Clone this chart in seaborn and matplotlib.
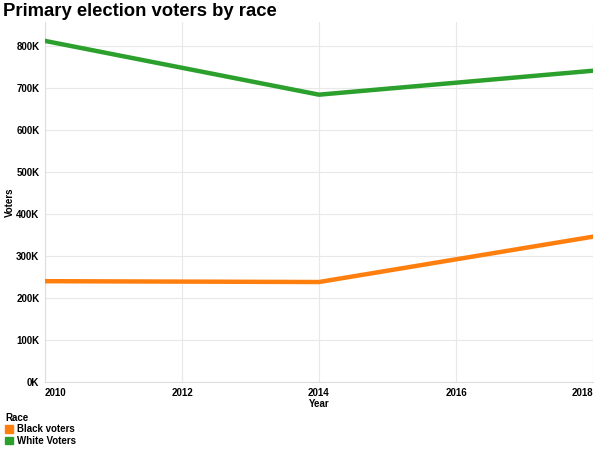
import matplotlib
matplotlib.use("Agg")
import matplotlib.pyplot as plt
import seaborn as sns
import pandas as pd
from matplotlib.ticker import FuncFormatter, MultipleLocator
from matplotlib.patches import Patch

years = [2010, 2014, 2018]
black_voters = [240000, 238000, 346000]
white_voters = [812000, 684000, 741000]
races = ["Black voters", "White Voters"]
colors = ["#ff7f0e", "#2ca02c"]

df = pd.DataFrame({
    "Year": years * 2,
    "Voters": black_voters + white_voters,
    "Race": [races[0]] * 3 + [races[1]] * 3,
})

sns.set_style("white")
plt.rcParams['font.family'] = ['Liberation Sans', 'DejaVu Sans']
plt.rcParams['text.color'] = 'black'
plt.rcParams['axes.labelcolor'] = 'black'
plt.rcParams['xtick.color'] = 'black'
plt.rcParams['ytick.color'] = 'black'

fig = plt.figure(figsize=(6.0, 4.51), dpi=100)
ax = fig.add_axes([45/600, 1 - 382/451, 548/600, 360/451])

sns.lineplot(data=df, x="Year", y="Voters", hue="Race", palette=colors,
             hue_order=races, linewidth=3.2, ax=ax, legend=False, zorder=3)

ax.set_xlim(2010, 2018)
ax.set_ylim(0, 857000)
ax.yaxis.set_major_locator(MultipleLocator(100000))
ax.yaxis.set_major_formatter(FuncFormatter(lambda v, p: f"{int(round(v/1000))}K"))
ax.grid(True, color="#e8e8e8", linewidth=0.8, zorder=0)
for s in ["top", "right"]:
    ax.spines[s].set_visible(False)
ax.spines["left"].set_color("#dddddd")
ax.spines["bottom"].set_color("#dddddd")
ax.spines["left"].set_linewidth(0.8)
ax.spines["bottom"].set_linewidth(0.8)
ax.tick_params(axis="both", length=0, labelsize=7, pad=4)
ax.set_xticks([2010, 2012, 2014, 2016, 2018])
ax.set_xticklabels(["2010", "2012", "2014", "2016", "2018"], fontweight="bold")
for lab in ax.get_yticklabels():
    lab.set_fontweight("bold")
tl = ax.get_xticklabels()
tl[0].set_ha("left")
tl[-1].set_ha("right")
ax.set_xlabel("Year", fontsize=7, fontweight="bold", labelpad=1)
ax.set_ylabel("Voters", fontsize=7, fontweight="bold")
ax.yaxis.set_label_coords((15 - 45) / 548, (382 - 202) / 360)

fig.text(3/600, 1 - 12/451, "Primary election voters by race", fontsize=13.3,
         fontweight="bold", va="center", ha="left", color="black")

handles = [Patch(facecolor=c, edgecolor=c, label=r) for c, r in zip(colors, races)]
leg = fig.legend(handles=handles, title="Race", loc="upper left",
                 bbox_to_anchor=(0.005, 1 - 411/451), frameon=False,
                 fontsize=7, title_fontsize=7, handlelength=0.8, handleheight=0.8,
                 handletextpad=0.4, labelspacing=0.15, borderpad=0.2,
                 borderaxespad=0)
leg.get_title().set_fontweight("bold")
leg._legend_box.align = "left"
for t in leg.get_texts():
    t.set_fontweight("bold")

fig.savefig("out.png", dpi=100)
